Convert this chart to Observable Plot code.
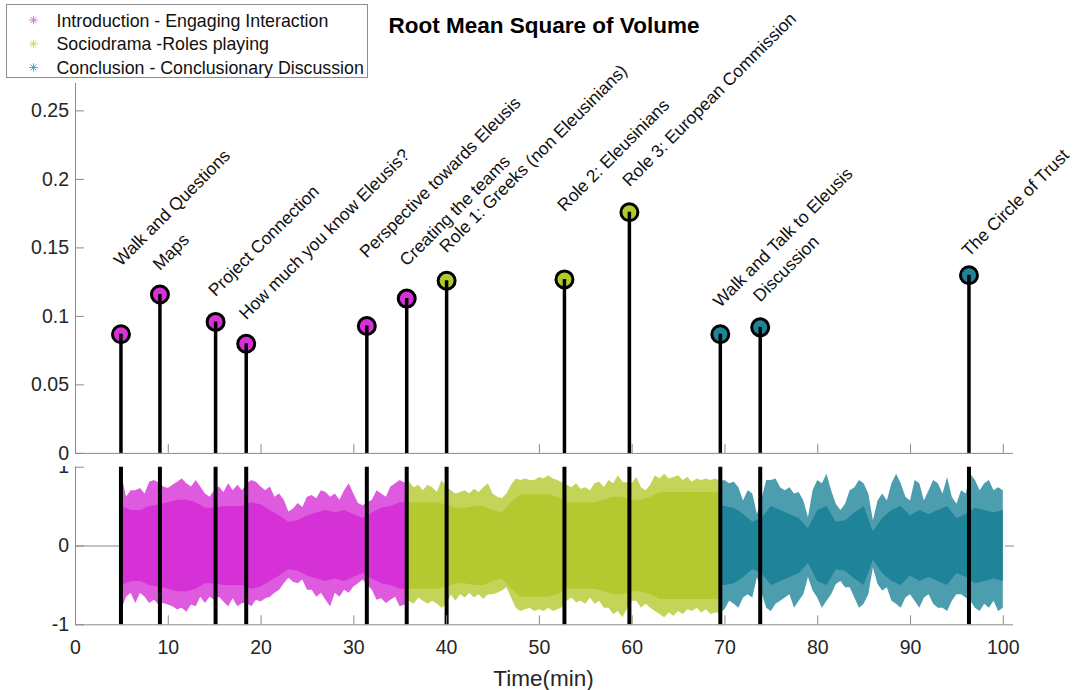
<!DOCTYPE html>
<html>
<head>
<meta charset="utf-8">
<script src="https://cdn.jsdelivr.net/npm/d3@7"></script>
<script src="https://cdn.jsdelivr.net/npm/@observablehq/plot@0.6"></script>
<style>
  body { margin: 0; background: #fff; }
  #fig { position: relative; width: 1082px; height: 690px; overflow: hidden; background: #fff;
         font-family: "Liberation Sans", Arial, Helvetica, sans-serif; }
  #fig svg { position: absolute; left: 0; overflow: visible; }
</style>
</head>
<body>
<div id="fig"></div>
<script>
// ---- Session markers: name, start time (min), RMS of volume, phase, label anchor height
const sessionNames = [
  "Walk and Questions", "Maps", "Project Connection", "How much you know Eleusis?",
  "Perspective towards Eleusis", "Creating the teams", "Role 1: Greeks (non Eleusinians)",
  "Role 2: Eleusinians", "Role 3: European Commission",
  "Walk and Talk to Eleusis", "Discussion", "The Circle of Trust"
];
const sessionTimes = [4.9, 9.1, 15.1, 18.4, 31.4, 35.7, 40.0, 52.7, 59.7, 69.5, 73.8, 96.3];
const sessionRms   = [0.087, 0.116, 0.096, 0.080, 0.093, 0.113, 0.126, 0.127, 0.176, 0.087, 0.092, 0.130];
const sessionPhase = [0, 0, 0, 0, 0, 0, 1, 1, 1, 2, 2, 2];
const labelAt      = [0.136, 0.133, 0.114, 0.097, 0.142, 0.136, 0.146, 0.176, 0.194, 0.106, 0.110, 0.143];

// ---- Phases, and where each phase begins in the recording (min)
const phaseNames  = ["Introduction - Engaging Interaction", "Sociodrama -Roles playing", "Conclusion - Conclusionary Discussion"];
const phaseColors = ["#d631d6", "#b4c930", "#1f8499"];
const recordingPhaseStart = [4.9, 35.7, 69.5];

// ---- Axis ticks
const rmsTicks  = [0, 0.05, 0.1, 0.15, 0.2, 0.25];
const timeTicks = [0, 10, 20, 30, 40, 50, 60, 70, 80, 90, 100];
const ampTicks  = [-1, 0, 1];

// ---- Audio waveform: peak envelope sampled every half minute from 5 to 100 min
const peakStep = 0.5, peakStart = 5;
const peakHi = [
  0.89,0.62,0.70,0.70,0.73,0.66,0.81,0.83,0.80,0.75,0.73,0.77,0.81,0.85,0.79,0.75,0.83,0.75,0.66,0.62,
  0.70,0.75,0.68,0.79,0.70,0.77,0.70,0.79,0.83,0.81,0.75,0.70,0.75,0.62,0.66,0.58,0.43,0.47,0.54,0.49,
  0.62,0.64,0.60,0.70,0.68,0.62,0.66,0.58,0.70,0.79,0.66,0.54,0.51,0.55,0.58,0.70,0.66,0.62,0.75,0.79,
  0.83,0.80,
  0.81,0.74,0.77,0.70,0.77,0.74,0.68,0.83,0.75,0.70,0.66,0.68,0.70,0.66,0.72,0.68,0.74,0.79,0.66,0.62,
  0.60,0.66,0.77,0.85,0.83,0.85,0.83,0.83,0.87,0.85,0.89,0.85,0.83,0.80,0.77,0.74,0.79,0.72,0.74,0.70,
  0.79,0.81,0.74,0.83,0.79,0.89,0.81,0.80,0.79,0.87,0.74,0.70,0.77,0.89,0.85,0.91,0.85,0.87,0.89,0.83,
  0.87,0.81,0.85,0.83,0.85,0.83,0.85,0.82,
  0.83,0.79,0.81,0.74,0.57,0.70,0.66,0.40,0.60,0.83,0.83,0.85,0.74,0.70,0.74,0.66,0.68,0.57,0.36,0.70,
  0.83,0.79,0.91,0.70,0.53,0.45,0.53,0.70,0.74,0.83,0.79,0.66,0.32,0.57,0.66,0.57,0.79,0.91,0.79,0.62,
  0.57,0.83,0.79,0.57,0.70,0.83,0.79,0.66,0.87,0.62,0.53,0.70,0.66,0.91,0.83,0.70,0.79,0.83,0.70,0.74,
  0.70
];
const peakLo = [
  -0.81,-0.65,-0.60,-0.73,-0.60,-0.65,-0.73,-0.69,-0.75,-0.73,-0.75,-0.77,-0.81,-0.79,-0.84,-0.75,-0.77,-0.65,-0.73,-0.65,
  -0.69,-0.65,-0.71,-0.77,-0.67,-0.77,-0.73,-0.73,-0.77,-0.69,-0.71,-0.67,-0.65,-0.60,-0.56,-0.48,-0.41,-0.46,-0.48,-0.43,
  -0.56,-0.56,-0.65,-0.60,-0.69,-0.77,-0.60,-0.65,-0.56,-0.60,-0.52,-0.48,-0.43,-0.50,-0.56,-0.69,-0.67,-0.73,-0.69,-0.65,
  -0.77,-0.75,
  -0.70,-0.74,-0.66,-0.70,-0.74,-0.70,-0.74,-0.79,-0.75,-0.62,-0.70,-0.62,-0.66,-0.60,-0.66,-0.62,-0.68,-0.62,-0.62,-0.60,
  -0.57,-0.53,-0.66,-0.79,-0.83,-0.81,-0.79,-0.83,-0.81,-0.83,-0.79,-0.83,-0.81,-0.78,-0.70,-0.66,-0.72,-0.70,-0.74,-0.66,
  -0.74,-0.70,-0.79,-0.79,-0.87,-0.83,-0.91,-0.80,-0.70,-0.70,-0.79,-0.74,-0.79,-0.83,-0.87,-0.91,-0.85,-0.89,-0.83,-0.87,
  -0.81,-0.83,-0.79,-0.85,-0.81,-0.87,-0.85,-0.85,
  -0.81,-0.70,-0.74,-0.79,-0.66,-0.62,-0.66,-0.40,-0.60,-0.79,-0.83,-0.74,-0.70,-0.66,-0.62,-0.79,-0.70,-0.62,-0.40,-0.57,
  -0.66,-0.79,-0.70,-0.62,-0.49,-0.45,-0.53,-0.53,-0.66,-0.79,-0.74,-0.62,-0.28,-0.49,-0.57,-0.53,-0.70,-0.74,-0.79,-0.66,
  -0.62,-0.70,-0.79,-0.66,-0.62,-0.74,-0.79,-0.79,-0.83,-0.70,-0.62,-0.62,-0.66,-0.70,-0.79,-0.83,-0.74,-0.79,-0.70,-0.83,
  -0.79
];

// ---- Audio waveform: amplitude of the dense body of the signal, every minute from 5 to 100 min
const bodyStep = 1, bodyStart = 5;
const bodyAmp = [
  0.50,0.45,0.45,0.50,0.52,0.55,0.58,0.58,0.55,0.48,0.48,0.50,0.50,0.50,0.55,0.52,0.45,0.38,0.30,0.32,
  0.38,0.42,0.45,0.42,0.45,0.40,0.35,0.42,0.48,0.50,0.55,
  0.55,0.55,0.55,0.55,0.52,0.48,0.48,0.50,0.50,0.45,0.42,0.55,0.65,0.65,0.65,0.65,0.62,0.55,0.55,0.55,
  0.55,0.58,0.62,0.62,0.58,0.58,0.62,0.68,0.68,0.68,0.68,0.68,0.68,0.68,
  0.50,0.48,0.40,0.30,0.35,0.50,0.45,0.40,0.35,0.22,0.45,0.50,0.30,0.32,0.42,0.50,0.18,0.35,0.45,0.50,
  0.38,0.45,0.40,0.45,0.50,0.35,0.40,0.48,0.45,0.42,0.45
];

// ---- Shared layout
const W = 1082;
const xDomain = [0, 101.1];
const axisGray = "#8a8a8a";
const textColor = "#262626";
const font = '"Liberation Sans", Arial, Helvetica, sans-serif';

const sessions = sessionNames.map((name, i) => ({
  name, time: sessionTimes[i], rms: sessionRms[i], phase: sessionPhase[i], labelAt: labelAt[i]
}));

// Split a sampled envelope into one series per phase; each series is held flat out to its phase boundaries
function phaseSeries(samples) {
  const rows = [];
  recordingPhaseStart.forEach((start, p) => {
    const end = p + 1 < recordingPhaseStart.length ? recordingPhaseStart[p + 1] : Infinity;
    const inside = samples.filter(s => s.t >= start && s.t <= end);
    if (!inside.length) return;
    const first = inside[0], last = inside[inside.length - 1];
    if (first.t > start) rows.push({...first, t: start, phase: p});
    inside.forEach(s => rows.push({...s, phase: p}));
    if (isFinite(end) && last.t < end) rows.push({...last, t: end, phase: p});
  });
  return rows;
}
const peakRows = phaseSeries(peakHi.map((hi, i) => ({t: peakStart + i * peakStep, hi, lo: peakLo[i]})));
const bodyRows = phaseSeries(bodyAmp.map((a, i) => ({t: bodyStart + i * bodyStep, hi: a, lo: -a})));

const fig = document.getElementById("fig");

// ---- Lower panel: recorded audio amplitude
const lower = Plot.plot({
  width: W, height: 250,
  marginLeft: 75, marginRight: 69, marginTop: 26.7, marginBottom: 65.7,
  x: {domain: xDomain},
  y: {domain: [-1, 1]},
  style: {fontFamily: font, background: "white", overflow: "visible"},
  marks: [
    Plot.ruleY([0], {x1: 0, x2: recordingPhaseStart[0], stroke: axisGray, strokeWidth: 1}),
    Plot.areaY(peakRows, {x: "t", y1: "lo", y2: "hi", z: "phase", fill: d => phaseColors[d.phase],
                          fillOpacity: 0.8, curve: "linear"}),
    Plot.areaY(bodyRows, {x: "t", y1: "lo", y2: "hi", z: "phase", fill: d => phaseColors[d.phase],
                          curve: "linear"}),
    Plot.ruleX(sessions, {x: "time", y1: -1, y2: 1, stroke: "black", strokeWidth: 4}),
    Plot.ruleX([0], {stroke: axisGray}),
    Plot.ruleY([-1], {stroke: axisGray}),
    Plot.axisY({ticks: ampTicks, tickSize: -9, tickPadding: 15.5, stroke: axisGray, fill: textColor,
                fontSize: 19.5, label: null, tickFormat: d => String(d)}),
    Plot.axisY({anchor: "right", ticks: [0], tickSize: -9, stroke: axisGray, fill: "none", label: null}),
    Plot.axisX({ticks: timeTicks, tickSize: -9, tickPadding: 24.5, stroke: axisGray, fill: textColor,
                fontSize: 19.5, label: null, tickFormat: d => String(d)})
  ]
});
lower.style.top = "440px";
fig.appendChild(lower);

// ---- Upper panel: RMS per session as stems
const upper = Plot.plot({
  width: W, height: 466,
  marginLeft: 75, marginRight: 69, marginTop: 83, marginBottom: 13.1,
  x: {domain: xDomain},
  y: {domain: [0, 0.27]},
  style: {fontFamily: font, background: "white", overflow: "visible"},
  marks: [
    Plot.ruleX([0], {stroke: axisGray}),
    Plot.ruleY([0], {stroke: axisGray}),
    Plot.axisY({ticks: rmsTicks, tickSize: -9, tickPadding: 15.5, stroke: axisGray, fill: textColor,
                fontSize: 19.5, label: null, tickFormat: d => String(d)}),
    Plot.axisX({ticks: timeTicks, tickSize: -9, stroke: axisGray, fill: "none", label: null}),
    Plot.dot(sessions, {x: "time", y: "rms", r: 8.5, fill: d => phaseColors[d.phase], stroke: "black", strokeWidth: 3}),
    Plot.ruleX(sessions, {x: "time", y1: 0, y2: "rms", stroke: "black", strokeWidth: 3.5}),
    Plot.text(sessions, {x: "time", y: "labelAt", text: "name", rotate: -45, textAnchor: "start",
                         lineAnchor: "bottom", fontSize: 17.5, fill: "#111"})
  ]
});
upper.style.top = "0px";
fig.appendChild(upper);

// ---- Title, x-axis title and phase legend
const over = d3.select(fig).append("svg")
  .attr("width", W).attr("height", 690)
  .style("top", "0px").style("pointer-events", "none")
  .style("font-family", font);

over.append("text")
  .attr("x", 544).attr("y", 33.3).attr("text-anchor", "middle")
  .attr("font-size", 22.5).attr("font-weight", "bold").attr("fill", "#000")
  .text("Root Mean Square of Volume");

over.append("text")
  .attr("x", 543.5).attr("y", 686).attr("text-anchor", "middle")
  .attr("font-size", 22.5).attr("fill", textColor)
  .text("Time(min)");

const leg = over.append("g");
leg.append("rect")
  .attr("x", 6.5).attr("y", 4.5).attr("width", 361).attr("height", 73)
  .attr("fill", "white").attr("stroke", "#8f8f8f").attr("stroke-width", 1);
phaseNames.forEach((name, i) => {
  const base = 26.6 + i * 23.7;
  const g = leg.append("g").attr("transform", `translate(33.5,${base - 6.5})`)
    .attr("stroke", phaseColors[i]).attr("stroke-width", 1).attr("opacity", 0.7);
  const r = 4.2;
  g.append("line").attr("x1", 0).attr("y1", -r).attr("x2", 0).attr("y2", r);
  g.append("line").attr("x1", -r).attr("y1", 0).attr("x2", r).attr("y2", 0);
  g.append("line").attr("x1", -r * 0.72).attr("y1", -r * 0.72).attr("x2", r * 0.72).attr("y2", r * 0.72);
  g.append("line").attr("x1", -r * 0.72).attr("y1", r * 0.72).attr("x2", r * 0.72).attr("y2", -r * 0.72);
  leg.append("text")
    .attr("x", 56.5).attr("y", base)
    .attr("font-size", 17.8).attr("fill", "#111")
    .text(name);
});
</script>
</body>
</html>
